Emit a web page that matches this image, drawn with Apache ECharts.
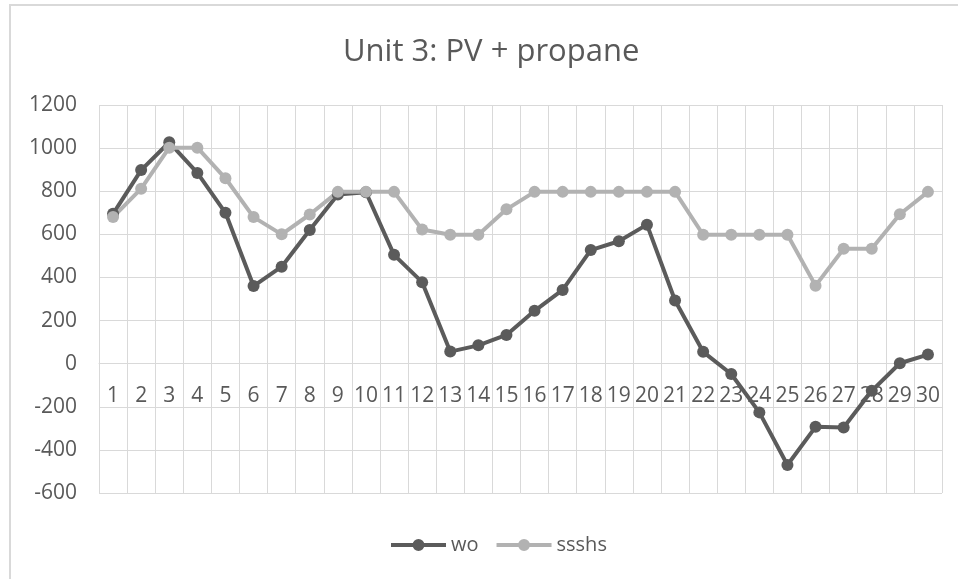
<!DOCTYPE html>
<html lang="en">
<head>
    <meta charset="UTF-8"/>
    <title>Unit 3: PV + propane</title>
    <script src="https://cdn.jsdelivr.net/npm/echarts@6/dist/echarts.min.js"></script>
    <style>
        html, body { margin: 0; padding: 0; background: #fff; }
        #main { width: 958px; height: 579px; }
    </style>
</head>
<body>
<div id="main"></div>

<script type="text/javascript">
    // data
    var days = ['1','2','3','4','5','6','7','8','9','10','11','12','13','14','15',
        '16','17','18','19','20','21','22','23','24','25','26','27','28','29','30'];
    var wo = [695, 898, 1027, 885, 700, 360, 450, 620, 785, 795, 505, 378, 56, 85, 133,
        245, 342, 527, 568, 645, 293, 55, -48, -226, -470, -293, -296, -126, 2, 42];
    var ssshs = [680, 812, 1002, 1002, 860, 680, 600, 692, 797, 797, 797, 622, 598, 598, 716,
        797, 797, 797, 797, 797, 797, 598, 598, 598, 598, 362, 533, 533, 693, 797];
    var yMin = -600, yMax = 1200, yStep = 200;

    var darkGrey = '#5b5b5b';
    var lightGrey = '#b2b2b2';
    var gridColor = '#d9d9d9';
    var textColor = '#595959';
    var fontName = 'Open Sans';

    var gridTop = 105, gridBottom = 86;
    var plotHeight = 579 - gridTop - gridBottom;
    // the category labels sit on the zero line, as in the spreadsheet chart
    var zeroOffset = -plotHeight * (0 - yMin) / (yMax - yMin);

    // legend icon: thick line with a dot in the middle
    var lineDot = 'path://M0,4L55,4L55,8L0,8Z M21.5,6A6,6 0 1 1 33.5,6A6,6 0 1 1 21.5,6Z';

    var myChart = echarts.init(document.getElementById('main'));

    var option = {
        backgroundColor: '#fff',
        animation: false,
        title: {
            text: 'Unit 3: PV + propane',
            left: 338,
            top: 32,
            textStyle: { color: textColor, fontSize: 31, fontWeight: 'normal', fontFamily: fontName }
        },
        graphic: [{
            type: 'rect',
            shape: { x: 10, y: 5, width: 960, height: 600 },
            style: { fill: 'none', stroke: gridColor, lineWidth: 2 },
            silent: true
        }],
        legend: {
            bottom: 19,
            left: 386,
            itemWidth: 55,
            itemHeight: 12,
            itemGap: 18,
            textStyle: { color: textColor, fontSize: 20, fontFamily: fontName },
            data: [{ name: 'wo', icon: lineDot }, { name: 'ssshs', icon: lineDot }]
        },
        grid: { left: 99, right: 16, top: gridTop, bottom: gridBottom, containLabel: false },
        xAxis: {
            type: 'category',
            data: days,
            boundaryGap: true,
            offset: zeroOffset,
            axisLine: { onZero: false, lineStyle: { color: gridColor, width: 1 } },
            axisTick: { show: false },
            axisLabel: { interval: 0, margin: 22, color: textColor, fontSize: 21, fontFamily: fontName },
            splitLine: { show: true, interval: 0, lineStyle: { color: gridColor, width: 1 } }
        },
        yAxis: {
            type: 'value',
            min: yMin,
            max: yMax,
            interval: yStep,
            axisLine: { show: false },
            axisTick: { show: false },
            axisLabel: {
                margin: 22, color: textColor, fontSize: 21, fontFamily: fontName,
                formatter: function (v) { return String(v); }
            },
            splitLine: { lineStyle: { color: gridColor, width: 1 } }
        },
        series: [
            {
                name: 'wo',
                type: 'line',
                data: wo,
                symbol: 'circle',
                symbolSize: 12,
                lineStyle: { color: darkGrey, width: 4 },
                itemStyle: { color: darkGrey }
            },
            {
                name: 'ssshs',
                type: 'line',
                data: ssshs,
                symbol: 'circle',
                symbolSize: 12,
                lineStyle: { color: lightGrey, width: 4 },
                itemStyle: { color: lightGrey }
            }
        ]
    };

    myChart.setOption(option);
</script>
</body>
</html>
